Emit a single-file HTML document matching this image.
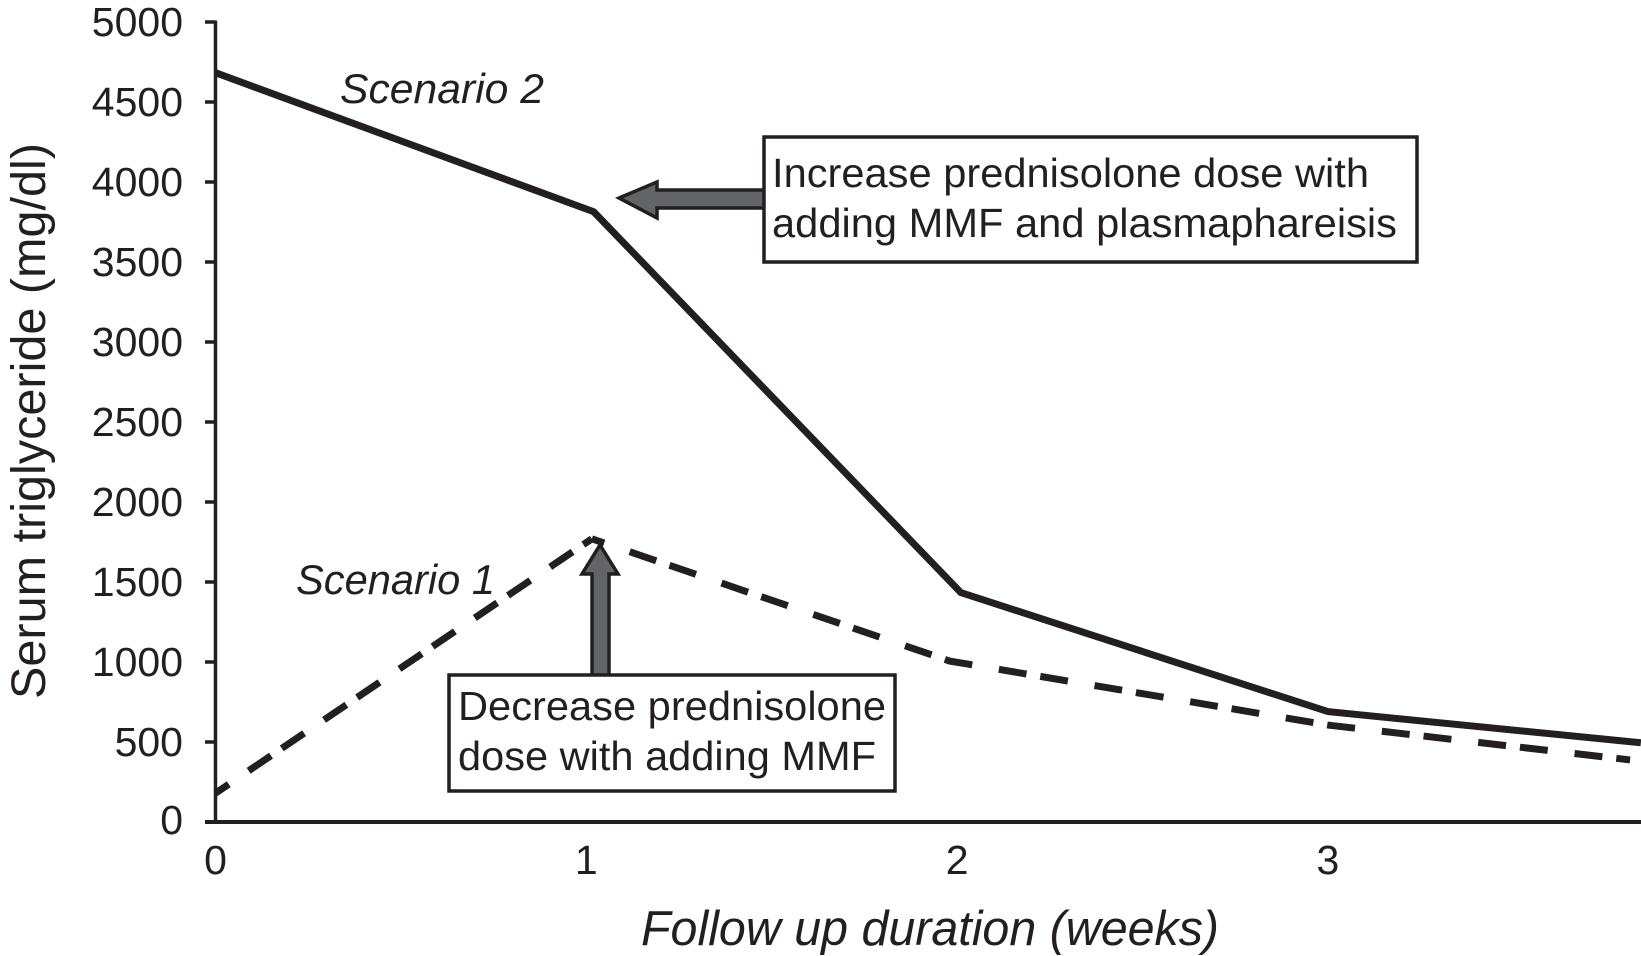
<!DOCTYPE html>
<html lang="en">
<head>
<meta charset="utf-8">
<title>Serum triglyceride follow up</title>
<style>
html,body{margin:0;padding:0;background:#fff;}
svg{display:block;}
text{font-family:"Liberation Sans",Arial,sans-serif;fill:#231f20;}
</style>
</head>
<body>
<svg id="chart" xmlns="http://www.w3.org/2000/svg" width="1641" height="956" viewBox="0 0 1641 956">
  <rect width="1641" height="956" fill="#fff"/>
  <g id="axes"></g>
  <g id="series"></g>

  <text transform="translate(45,699) rotate(-90)" font-size="48" textLength="556" lengthAdjust="spacingAndGlyphs">Serum triglyceride (mg/dl)</text>
  <text x="641" y="945" font-size="49" font-style="italic" textLength="578" lengthAdjust="spacingAndGlyphs">Follow up duration (weeks)</text>

  <text x="340" y="103" font-size="42" font-style="italic" textLength="204" lengthAdjust="spacingAndGlyphs">Scenario 2</text>
  <text x="296" y="594" font-size="42" font-style="italic" textLength="199" lengthAdjust="spacingAndGlyphs">Scenario 1</text>

  <polygon points="619,198 657,182 657,190 764,190 764,208 657,208 657,218" fill="#636466" stroke="#231f20" stroke-width="3.5" stroke-linejoin="miter"/>
  <g>
    <rect x="764" y="137" width="653" height="125" fill="#fff" stroke="#231f20" stroke-width="3.5"/>
    <text x="772" y="187" font-size="41" textLength="597" lengthAdjust="spacingAndGlyphs">Increase prednisolone dose with</text>
    <text x="772" y="237" font-size="41" textLength="625" lengthAdjust="spacingAndGlyphs">adding MMF and plasmaphareisis</text>
  </g>

  <polygon points="600,545 618,574 609,574 609,676 592,676 592,574 582,574" fill="#636466" stroke="#231f20" stroke-width="3.5" stroke-linejoin="miter"/>
  <g>
    <rect x="449" y="675" width="446" height="116" fill="#fff" stroke="#231f20" stroke-width="3.5"/>
    <text x="458" y="720" font-size="41" textLength="428" lengthAdjust="spacingAndGlyphs">Decrease prednisolone</text>
    <text x="458" y="770" font-size="41" textLength="418" lengthAdjust="spacingAndGlyphs">dose with adding MMF</text>
  </g>
</svg>
<script>
const xTickLabels = [0, 1, 2, 3];
const yTickLabels = [0, 500, 1000, 1500, 2000, 2500, 3000, 3500, 4000, 4500, 5000];
const scenario1Weeks = [0, 1.015, 1.98, 3, 3.815];
const scenario1Values = [180, 1770, 1006, 606, 388];
const scenario2Weeks = [0, 1.02, 2.01, 3, 3.844];
const scenario2Values = [4683, 3814, 1434, 690, 495];

const NS = 'http://www.w3.org/2000/svg';
const INK = '#231f20';
function xScale(week) { return 215.5 + week * 370.8; }
function yScale(value) { return 822 - value * 0.16; }
function make(tag, attrs, parent) {
  const el = document.createElementNS(NS, tag);
  for (const key in attrs) el.setAttribute(key, attrs[key]);
  parent.appendChild(el);
  return el;
}
const axes = document.getElementById('axes');
const series = document.getElementById('series');

const yAxis = make('line', {x1: 215.5, x2: 215.5, y1: yScale(5000) - 1.5, y2: yScale(0), stroke: INK, 'stroke-width': 3.5}, axes);


const xAxis = make('line', {x1: 205, x2: 1641, y1: yScale(0), y2: yScale(0), stroke: INK, 'stroke-width': 4}, axes);



yTickLabels.forEach(function (value) {
  const tick = make('line', {x1: 205, x2: 215.5, y1: yScale(value), y2: yScale(value), stroke: INK, 'stroke-width': 3.5}, axes);
  
  
  const label = make('text', {x: 183, y: yScale(value) + (value === 0 ? 12 : 14), 'font-size': 41, 'text-anchor': 'end'}, axes);
  
  
  label.textContent = value;
});

xTickLabels.forEach(function (week) {
  const label = make('text', {x: xScale(week), y: 874, 'font-size': 41, 'text-anchor': 'middle'}, axes);
  
  
  label.textContent = week;
});

function linePoints(weeks, values) {
  return weeks.map(function (week, i) { return xScale(week) + ',' + yScale(values[i]); }).join(' ');
}

const line2 = make('polyline', {points: linePoints(scenario2Weeks, scenario2Values), fill: 'none', stroke: INK, 'stroke-width': 7, 'stroke-linejoin': 'miter'}, series);



const line1Rise = make('polyline', {points: linePoints(scenario1Weeks.slice(0, 2), scenario1Values.slice(0, 2)), fill: 'none', stroke: INK, 'stroke-width': 7, 'stroke-dasharray': '27 13 27 24', 'stroke-dashoffset': 51}, series);



const line1Fall = make('polyline', {points: linePoints(scenario1Weeks.slice(1), scenario1Values.slice(1)), fill: 'none', stroke: INK, 'stroke-width': 7, 'stroke-dasharray': '28 14 28 27', 'stroke-dashoffset': 57, 'stroke-linejoin': 'miter'}, series);


</script>
</body>
</html>
